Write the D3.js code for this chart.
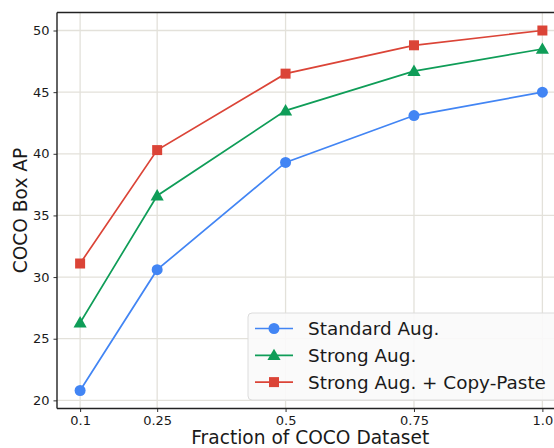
<!DOCTYPE html>
<html><head><meta charset="utf-8">
<script src="https://cdn.jsdelivr.net/npm/d3@7"></script>
<style>body{margin:0;background:#fff;} svg{display:block;font-family:"DejaVu Sans",sans-serif;}</style>
</head><body>
<script>
const fractions = [0.1, 0.25, 0.5, 0.75, 1.0];
const xTickLabels = ["0.1", "0.25", "0.5", "0.75", "1.0"];
const yTicks = [20, 25, 30, 35, 40, 45, 50];
const seriesNames = ["Standard Aug.", "Strong Aug.", "Strong Aug. + Copy-Paste"];
const standardAug = [20.8, 30.6, 39.3, 43.1, 45.0];
const strongAug = [26.3, 36.6, 43.5, 46.7, 48.5];
const copyPaste = [31.1, 40.3, 46.5, 48.8, 50.0];
const colors = ["#4285F4", "#0F9D58", "#DB4437"];
const markers = ["circle", "triangle", "square"];

const W = 554, H = 448;
const m = {left: 57, top: 12.5, right: 565.5, bottom: 408.5};
const svg = d3.select("body").append("svg").attr("width", W).attr("height", H);

const x = d3.scaleLinear().domain([0.055, 1.045]).range([m.left, m.right]);
const y = d3.scaleLinear().domain([19.34, 51.46]).range([m.bottom, m.top]);

// grid
const grid = svg.append("g");
grid.selectAll(".gx").data(fractions).join("line")
  .attr("x1", d => x(d)).attr("x2", d => x(d)).attr("y1", m.top).attr("y2", m.bottom)
  .attr("stroke", "#e3e1da").attr("stroke-width", 1.3);
grid.selectAll(".gy").data(yTicks).join("line")
  .attr("y1", d => y(d)).attr("y2", d => y(d)).attr("x1", m.left).attr("x2", m.right)
  .attr("stroke", "#e3e1da").attr("stroke-width", 1.3);

// axes
const xAxis = d3.axisBottom(x).tickValues(fractions).tickFormat((d, i) => xTickLabels[i]).tickSize(3.5).tickPadding(4);
const yAxis = d3.axisLeft(y).tickValues(yTicks).tickSize(3.5).tickPadding(4);
const gx = svg.append("g").attr("transform", `translate(0,${m.bottom})`).call(xAxis);
const gy = svg.append("g").attr("transform", `translate(${m.left},0)`).call(yAxis);
[gx, gy].forEach(g => {
  g.select(".domain").remove();
  g.selectAll("text").attr("font-size", 13).attr("fill", "#1a1a1a").attr("font-family", "DejaVu Sans");
  g.selectAll("line").attr("stroke", "#333");
});
// spines
svg.append("line").attr("x1", m.left).attr("x2", m.left).attr("y1", m.top).attr("y2", m.bottom).attr("stroke", "#222").attr("stroke-width", 1.4);
svg.append("line").attr("x1", m.left).attr("x2", m.right).attr("y1", m.bottom).attr("y2", m.bottom).attr("stroke", "#222").attr("stroke-width", 1.4);
svg.append("line").attr("x1", m.left).attr("x2", m.right).attr("y1", m.top).attr("y2", m.top).attr("stroke", "#222").attr("stroke-width", 1.4);

// labels
svg.append("text").attr("x", (m.left + m.right) / 2 - 1).attr("y", 444).attr("text-anchor", "middle")
  .attr("font-size", 18.6).attr("fill", "#1a1a1a").text("Fraction of COCO Dataset");
svg.append("text").attr("transform", `translate(27,${(m.top + m.bottom) / 2}) rotate(-90)`).attr("text-anchor", "middle")
  .attr("font-size", 18.6).attr("fill", "#1a1a1a").text("COCO Box AP");

const symbolFor = {
  circle: d3.symbol().type(d3.symbolCircle).size(95),
  triangle: d3.symbol().type(d3.symbolTriangle).size(75),
  square: d3.symbol().type(d3.symbolSquare).size(100)
};

const allSeries = [standardAug, strongAug, copyPaste];
const line = d3.line().x((d, i) => x(fractions[i])).y(d => y(d));
allSeries.forEach((vals, si) => {
  svg.append("path").datum(vals).attr("d", line).attr("fill", "none")
    .attr("stroke", colors[si]).attr("stroke-width", 1.7);
  svg.selectAll(null).data(vals).join("path")
    .attr("d", symbolFor[markers[si]])
    .attr("transform", (d, i) => `translate(${x(fractions[i])},${y(d) + (markers[si] === "triangle" ? 1 : 0)})`)
    .attr("fill", colors[si]);
});

// legend
const lg = svg.append("g");
lg.append("rect").attr("x", 248).attr("y", 313).attr("width", 330).attr("height", 87).attr("rx", 4)
  .attr("fill", "#f9f9f9").attr("fill-opacity", 0.9).attr("stroke", "#dcdcdc").attr("stroke-width", 1);
seriesNames.forEach((name, i) => {
  const yy = 328.5 + i * 26.8;
  lg.append("line").attr("x1", 255).attr("x2", 293).attr("y1", yy).attr("y2", yy)
    .attr("stroke", colors[i]).attr("stroke-width", 1.7);
  lg.append("path").attr("d", symbolFor[markers[i]]).attr("transform", `translate(274,${yy + (markers[i] === "triangle" ? 1 : 0)})`).attr("fill", colors[i]);
  lg.append("text").attr("x", 308).attr("y", yy + 6.5).attr("font-size", 18.4).attr("fill", "#1a1a1a").text(name);
});
</script>
</body></html>
